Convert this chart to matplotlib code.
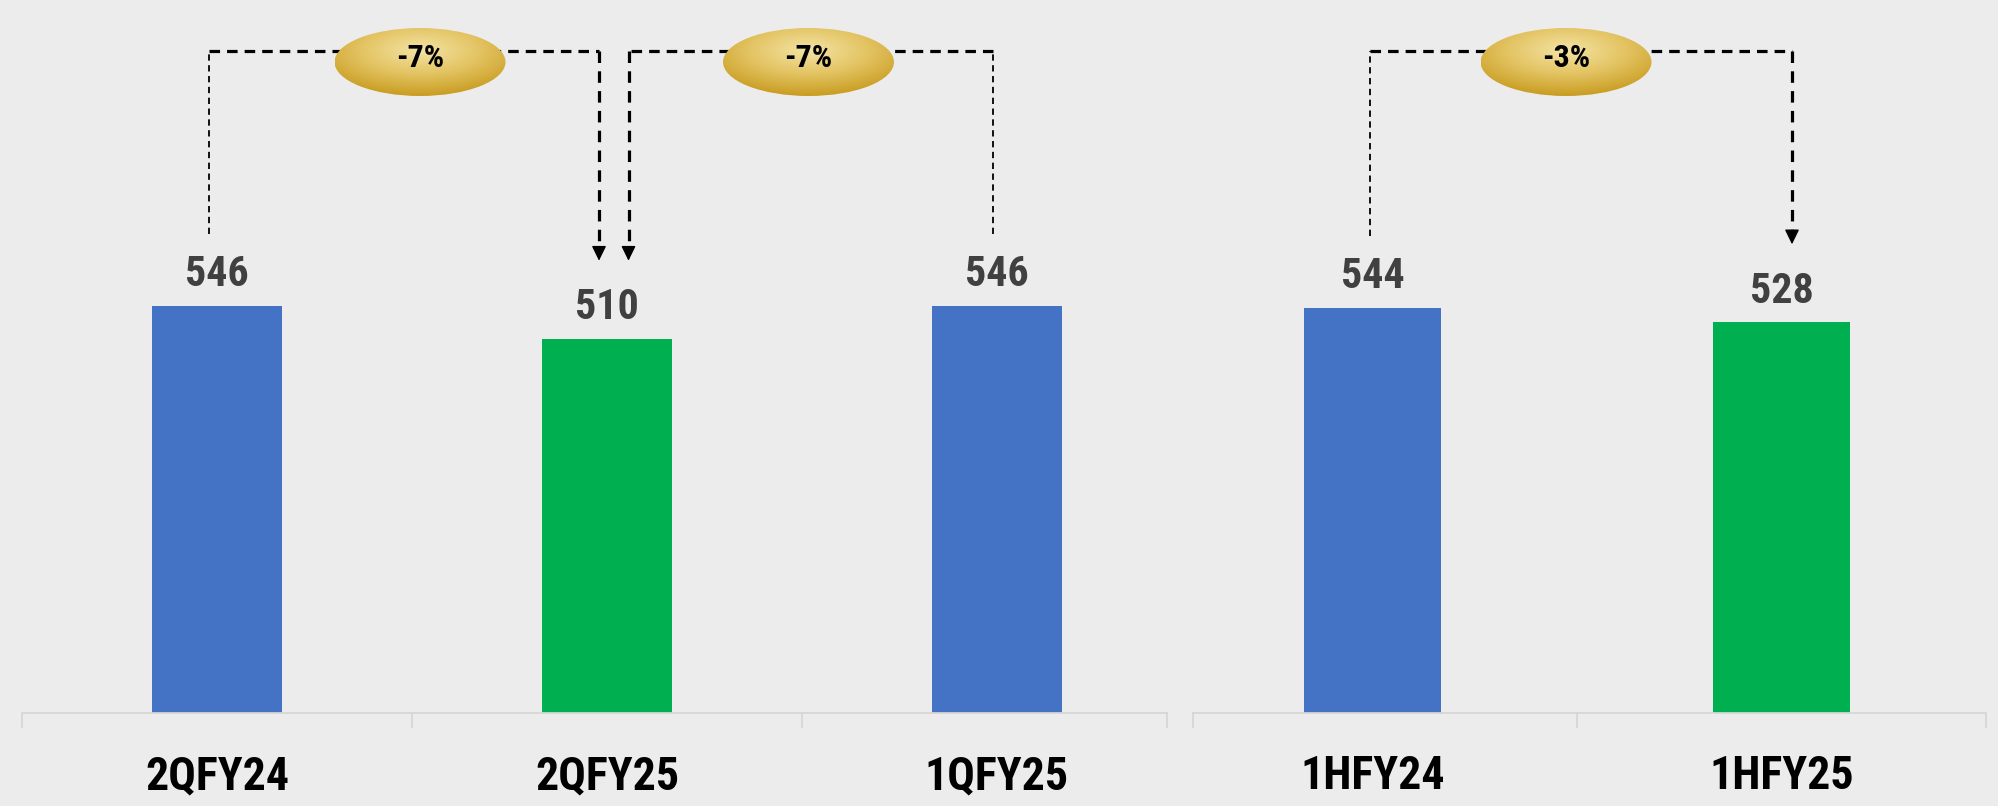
import numpy as np
import matplotlib
matplotlib.use("Agg")
import matplotlib.pyplot as plt
from matplotlib import font_manager
from matplotlib.font_manager import FontProperties
from matplotlib.patches import Ellipse
from matplotlib.colors import LinearSegmentedColormap

# data
quarter_labels = ["2QFY24", "2QFY25", "1QFY25"]
quarter_values = [546, 510, 546]
half_labels = ["1HFY24", "1HFY25"]
half_values = [544, 528]
change_labels = ["-7%", "-7%", "-3%"]

BLUE = "#4472C4"
GREEN = "#00B050"
quarter_colors = [BLUE, GREEN, BLUE]
half_colors = [BLUE, GREEN]

# narrow bold font if there is one
files = [f.fname for f in font_manager.fontManager.ttflist]
font_file = None
for pat in ["LiberationSansNarrow-Bold.", "RobotoCondensed-Bold.", "Roboto_Condensed-Bold",
            "DejaVuSansCondensed-Bold.", "OpenSans_Condensed-Bold", "OpenSans-CondensedBold"]:
    hits = [f for f in files if pat in f.replace("\\", "/").split("/")[-1]]
    if hits:
        font_file = hits[0]
        break
if font_file:
    FP = FontProperties(fname=font_file)
else:
    FP = FontProperties(family="Liberation Sans", weight="bold")

W, H = 1998, 806
YMIN, YMAX = 100, 881
AX_H = 713  # px

fig = plt.figure(figsize=(W / 100, H / 100), dpi=100, facecolor="#ececec")
renderer = fig.canvas.get_renderer()


def fit_size(text, target_w, max_size):
    t = fig.text(0, 0, text, fontproperties=FP, fontsize=max_size)
    w = t.get_window_extent(renderer).width
    t.remove()
    return min(max_size, max_size * target_w / w)


LABEL_SIZE = fit_size("2QFY24", 154, 33)
VALUE_SIZE = fit_size("546", 64, 33)
PCT_SIZE = fit_size("-7%", 51, 23)

ax_q = fig.add_axes([22 / W, (H - AX_H) / H, 1170 / W, AX_H / H])
ax_h = fig.add_axes([1168 / W, (H - AX_H) / H, 818 / W, AX_H / H])
ax_q.set_xlim(-0.5, 2.5)
ax_h.set_xlim(-0.5, 1.5)


def up(px):
    return px * (YMAX - YMIN) / AX_H


def xunits(ax, px):
    lo, hi = ax.get_xlim()
    return px * (hi - lo) / (ax.get_position().width * W)


def setup(ax, labels, values, colors, width, bounds):
    ax.set_facecolor("none")
    x = np.arange(len(values))
    ax.bar(x, values, width=width, color=colors, zorder=2)
    for i, v in enumerate(values):
        ax.annotate(str(v), (i, v), xytext=(0, 14), textcoords="offset points",
                    ha="center", va="baseline", fontproperties=FP,
                    fontsize=VALUE_SIZE, color="#404040")
        ax.annotate(labels[i], (i, 0), xycoords=("data", "axes fraction"),
                    xytext=(0, -55), textcoords="offset points",
                    ha="center", va="baseline", fontproperties=FP,
                    fontsize=LABEL_SIZE, color="black")
    for s in ["top", "left", "right"]:
        ax.spines[s].set_visible(False)
    ax.spines["bottom"].set_color("#d6d6d6")
    ax.spines["bottom"].set_linewidth(1.3)
    ax.spines["bottom"].set_bounds(bounds[0], bounds[-1])
    ax.set_xticks(bounds)
    ax.set_xticklabels([])
    ax.tick_params(axis="x", length=10.8, width=1.3, color="#d6d6d6", direction="out")
    ax.set_yticks([])


setup(ax_q, quarter_labels, quarter_values, quarter_colors, 0.333, [-0.5, 0.5, 1.5, 2.436])
setup(ax_h, half_labels, half_values, half_colors, 0.335, [-0.439, 0.5, 1.5])

gold = LinearSegmentedColormap.from_list("gold", ["#F3E3A4", "#E4C565", "#C99D22"])
gu, gv = np.meshgrid(np.linspace(-1, 1, 200), np.linspace(-1, 1, 100))
grad = np.clip(np.sqrt(gu ** 2 + (gv - 0.35) ** 2) / 1.35, 0, 1)

TOP_Y = YMIN + up(662)
ELL_Y = YMIN + up(651)


def bracket(ax, values, i_from, i_to, dx_from, dx_to, ell_dx, label):
    x0 = i_from + xunits(ax, dx_from)
    x1 = i_to + xunits(ax, dx_to)
    y0 = values[i_from] + up(72)
    tip = values[i_to] + up(78)
    head = up(13)
    ax.plot([x0, x0], [y0, TOP_Y], color="black", lw=1.3,
            linestyle=(0, (3.5, 2.5)), zorder=3, clip_on=False)
    ax.plot([x0, x1], [TOP_Y, TOP_Y], color="black", lw=2.3,
            linestyle=(0, (3.3, 2.2)), zorder=3, clip_on=False)
    ax.plot([x1, x1], [TOP_Y, tip + head], color="black", lw=2.3,
            linestyle=(0, (3.6, 2.6)), zorder=3, clip_on=False)
    ax.annotate("", xy=(x1, tip), xytext=(x1, tip + head),
                arrowprops=dict(arrowstyle="-|>,head_length=0.45,head_width=0.22",
                                mutation_scale=20, color="black", lw=1,
                                shrinkA=0, shrinkB=0), zorder=4)
    cx = (x0 + x1) / 2 + xunits(ax, ell_dx)
    ew = xunits(ax, 171)
    eh = up(68)
    ell = Ellipse((cx, ELL_Y), ew, eh, facecolor="none", edgecolor="none", zorder=5)
    ax.add_patch(ell)
    im = ax.imshow(grad, cmap=gold, extent=[cx - ew / 2, cx + ew / 2, ELL_Y - eh / 2, ELL_Y + eh / 2],
                   origin="lower", aspect="auto", zorder=5, interpolation="bilinear")
    im.set_clip_path(ell)
    ax.text(cx, ELL_Y + up(4), label, ha="center", va="center", fontproperties=FP,
            fontsize=PCT_SIZE, color="black", zorder=6)


bracket(ax_q, quarter_values, 0, 1, -8, -8, 16, change_labels[0])
bracket(ax_q, quarter_values, 2, 1, -4.5, 21.5, -2, change_labels[1])
bracket(ax_h, half_values, 0, 1, -2.5, 10.5, -15, change_labels[2])

for ax in (ax_q, ax_h):
    ax.set_ylim(YMIN, YMAX)
ax_q.set_xlim(-0.5, 2.5)
ax_h.set_xlim(-0.5, 1.5)

fig.savefig("out.png", dpi=100, facecolor=fig.get_facecolor())
